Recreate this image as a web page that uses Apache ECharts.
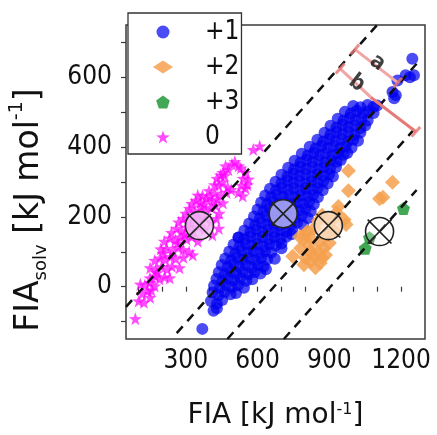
<!DOCTYPE html>
<html>
<head>
<meta charset="utf-8">
<script src="https://cdn.jsdelivr.net/npm/echarts@6/dist/echarts.min.js"></script>
<style>
  html, body { margin: 0; padding: 0; background: #fff; }
  #chart { width: 437px; height: 435px; }
</style>
</head>
<body>
<div id="chart"></div>
<script>
// axis ticks / labels
const xTickValues = [100, 200, 300, 400, 500, 600, 700, 800, 900, 1000, 1100, 1200];
const xLabelValues = [300, 600, 900, 1200];
const yTickValues = [-100, 0, 100, 200, 300, 400, 500, 600, 700];
const yLabelValues = [0, 200, 400, 600];

const seriesNames = ['+1', '+2', '+3', '0'];

// [FIA, FIA_solv]
const plus1Points = [
  [369,-121],
  [416,-69],[430,-62],
  [405,-41],[430,-49],[452,-38],
  [412,-17],[437,-24],[462,-15],[487,-22],[510,-18],
  [418,3],[443,-4],[468,5],[493,-2],[518,4],[543,-3],
  [428,22],[453,16],[478,24],[503,18],[528,25],[553,17],[578,21],
  [438,41],[463,35],[488,44],[513,37],[538,43],[563,36],[588,42],[612,38],
  [450,62],[475,56],[500,64],[525,57],[550,63],[575,55],[600,62],[625,58],
  [465,81],[490,76],[515,84],[540,77],[565,83],[590,75],[615,82],[640,78],
  [482,101],[507,95],[532,104],[557,97],[582,103],[607,96],[632,102],[657,98],
  [500,121],[525,116],[550,124],[575,117],[600,123],[625,115],[650,122],[675,118],[700,124],
  [520,141],[545,136],[570,144],[595,137],[620,143],[645,135],[670,142],[695,138],[720,143],
  [545,161],[570,156],[595,164],[620,157],[645,163],[670,155],[695,162],[720,158],[745,163],
  [565,181],[590,176],[615,184],[640,177],[665,183],[690,175],[715,182],[740,178],[765,183],[790,177],
  [585,201],[610,196],[635,204],[660,197],[685,203],[710,195],[735,202],[760,198],[785,203],[810,197],
  [600,221],[625,216],[650,224],[675,217],[700,223],[725,215],[750,222],[775,218],[800,223],[822,216],
  [615,241],[640,236],[665,244],[690,237],[715,243],[740,235],[765,242],[790,238],[815,243],[835,236],
  [632,261],[657,256],[682,264],[707,257],[732,263],[757,255],[782,262],[807,258],[832,263],[852,256],
  [652,281],[677,276],[702,284],[727,277],[752,283],[777,275],[802,282],[827,278],[852,283],[872,276],
  [675,301],[700,296],[725,304],[750,297],[775,303],[800,295],[825,302],[850,298],[875,303],[893,296],
  [700,321],[725,316],[750,324],[775,317],[800,323],[825,315],[850,322],[875,318],[900,323],[915,316],
  [728,341],[753,336],[778,344],[803,337],[828,343],[853,335],[878,342],[903,338],[928,343],
  [755,361],[780,356],[805,364],[830,357],[855,363],[880,355],[905,362],[930,358],[948,363],
  [785,381],[810,376],[835,384],[860,377],[885,383],[910,375],[935,382],[960,378],[975,383],
  [818,401],[843,396],[868,404],[893,397],[918,403],[943,395],[968,402],[993,398],
  [850,421],[875,416],[900,424],[925,417],[950,423],[975,415],[1000,422],[1020,418],
  [880,441],[905,436],[930,444],[955,437],[980,443],[1005,435],[1030,442],
  [905,461],[930,456],[955,464],[980,457],[1005,463],[1030,455],[1050,462],
  [935,481],[960,476],[985,484],[1010,477],[1035,483],[1060,476],
  [965,501],[990,496],[1015,504],[1040,497],[1065,503],[1085,498],
  [1000,518],[1030,514],[1060,521],[1085,516],[1100,519],
  [635,50],[672,80],[700,110],[742,150],[521,141],
  [1164,558],[1171,540],[1178,549],[1185,591],[1219,606],[1254,606],[1247,653],[1237,600]
];

const plus2Points = [
  [980,332],[980,275],[1164,299],[1110,252],[1124,256],[938,230],[970,178],[962,192],
  [870,205],[855,190],[836,167],[808,158],[794,139],[822,139],[776,143],[800,150],
  [877,110],[850,101],[884,91],[747,87],[801,82],[822,73],[794,63],[842,54],[870,82],
  [905,185],[920,160],[890,150],[930,212],[822,101],[815,120],[860,130],[780,110],
  [835,88],[862,68],[900,125]
];

const plus3Points = [
  [1210,224],[1068,140],[1050,110]
];

const zeroPoints = [
  [89,-92],
  [103,-41],[125,-45],[151,-31],
  [140,-12],[156,-10],[118,-20],
  [110,7],[129,5],[150,12],[170,2],
  [150,25],[172,30],[190,22],[212,28],[233,25],
  [151,54],[175,48],[198,57],[222,50],[242,58],[274,54],
  [170,75],[192,82],[215,78],[236,86],[258,80],[290,84],
  [195,108],[219,110],[245,104],[268,112],[290,106],[314,100],[329,91],
  [210,130],[233,139],[257,134],[280,142],[303,136],[326,144],[350,130],
  [240,155],[260,167],[283,160],[306,170],[330,162],[352,172],[378,165],[411,148],[438,167],
  [270,185],[288,195],[310,188],[335,199],[358,190],[380,198],[405,186],[428,195],
  [300,210],[315,224],[338,217],[362,228],[385,220],[408,226],[425,233],[440,210],
  [325,238],[342,247],[362,242],[386,252],[410,245],[432,250],[455,240],
  [350,262],[370,261],[397,275],[420,268],[446,262],[470,270],[520,270],[538,260],
  [420,292],[438,290],[455,300],[475,285],[534,290],[550,282],
  [430,310],[445,320],[462,318],[548,327],[562,308],[540,310],
  [455,327],[478,335],[530,340],
  [466,346],[493,351],[521,346],[505,358],
  [582,393],[609,403],
  [180,40],[205,95],[265,125],[295,150],[322,182],[352,205],[375,235],[400,258],[490,278],[558,292]
];

// group means (circle with cross), order: 0, +1, +2, +3
const meanPoints = [[357,175],[707,209],[896,175],[1110,158]];

// dashed guide lines, two end points each
const lineZero = [[50,-58],[1100,750]];
const linePlus1 = [[262,-133],[1265,639]];
const linePlus2 = [[474,-150],[1268,461]];
const linePlus3 = [[710,-150],[1265,277]];

// bracket annotations a and b
const bracketA = [[1007,680],[1186,585]];
const bracketB1 = [[945,625],[1073,543]];
const bracketB2 = [[1073,543],[1262,444]];
const bracketEnds = [[1007,680],[1186,585],[945,625],[1262,444]];
const bracketLabels = ['a', 'b'];
const bracketLabelPos = [[1102,642],[1015,583]];

const FONT = "'DejaVu Sans Condensed', 'DejaVu Sans', sans-serif";
const TITLE_FONT = "'DejaVu Sans', sans-serif";
const STAR = 'path://M10 0L12.35 6.76L19.51 6.91L13.8 11.24L15.88 18.09L10 14L4.12 18.09L6.2 11.24L0.49 6.91L7.65 6.76Z';
const PENTAGON = 'path://M10 0L19.51 6.91L15.88 18.09L4.12 18.09L0.49 6.91Z';
const MEAN = 'path://M22,12A10,10,0,1,1,2,12A10,10,0,1,1,22,12ZM3.5,3.5L20.5,20.5M20.5,3.5L3.5,20.5';
const meanFills = ['rgba(242,190,242,0.85)', 'rgba(176,176,242,0.85)', 'rgba(250,222,196,0.8)', 'rgba(255,255,255,0.25)'];

const chart = echarts.init(document.getElementById('chart'));

function dashed(name, data) {
  return {
    name: name,
    type: 'line',
    data: data,
    symbol: 'none',
    silent: true,
    z: 5,
    lineStyle: { color: '#111', width: 2.5, type: [9, 7] },
  };
}

chart.setOption({
  animation: false,
  backgroundColor: '#fff',
  textStyle: { fontFamily: FONT },
  grid: {
    left: 123, right: 12, top: 25, bottom: 93,
    show: true, borderColor: '#3a3a3a', borderWidth: 1.5,
  },
  legend: {
    data: seriesNames,
    orient: 'vertical',
    left: 128, top: 13,
    z: 10,
    selectedMode: false,
    backgroundColor: '#fff',
    borderColor: '#333', borderWidth: 1.3,
    padding: [4, 2, 2, 25],
    itemWidth: 20, itemHeight: 13, itemGap: 5,
    textStyle: { fontSize: 26, color: '#111', lineHeight: 30, padding: [0, 0, 0, 27], fontFamily: FONT },
  },
  xAxis: {
    type: 'value', min: 50, max: 1300,
    axisLine: { show: false },
    splitLine: { show: false },
    axisTick: { show: true, length: 5, customValues: xTickValues, lineStyle: { color: '#3a3a3a', width: 1.2 } },
    axisLabel: {
      customValues: xLabelValues, fontSize: 26, color: '#111', margin: 9, fontFamily: FONT,
      formatter: (v) => String(v),
    },
    name: 'FIA [kJ mol{sup|-1}]',
    nameLocation: 'middle',
    nameGap: 63,
    nameTextStyle: {
      fontSize: 28, color: '#111', fontFamily: TITLE_FONT,
      rich: { sup: { fontSize: 16, verticalAlign: 'top', color: '#111', fontFamily: TITLE_FONT } },
    },
  },
  yAxis: {
    type: 'value', min: -150, max: 750,
    axisLine: { show: false },
    splitLine: { show: false },
    axisTick: { show: true, length: 5, customValues: yTickValues, lineStyle: { color: '#3a3a3a', width: 1.2 } },
    axisLabel: {
      customValues: yLabelValues, fontSize: 26, color: '#111', margin: 14, fontFamily: FONT,
      formatter: (v) => String(v),
    },
    name: 'FIA{sub|solv} [kJ mol{sup|-1}]',
    nameLocation: 'middle',
    nameGap: 76,
    nameTextStyle: {
      fontSize: 33, color: '#111', fontFamily: TITLE_FONT, lineHeight: 42,
      padding: [0, 56, 0, 0],
      rich: {
        sub: { fontSize: 18, verticalAlign: 'bottom', color: '#111', fontFamily: TITLE_FONT },
        sup: { fontSize: 19, verticalAlign: 'top', color: '#111', fontFamily: TITLE_FONT },
      },
    },
  },
  series: [
    {
      name: '0', type: 'scatter', data: zeroPoints,
      symbol: STAR, symbolSize: 13, z: 2,
      itemStyle: { color: '#ff00ff', opacity: 0.7 },
    },
    {
      name: '+1', type: 'scatter', data: plus1Points,
      symbol: 'circle', symbolSize: 12, z: 2,
      itemStyle: { color: 'rgb(0,0,240)', opacity: 0.7 },
    },
    {
      name: '+2', type: 'scatter', data: plus2Points,
      symbol: 'diamond', symbolSize: 15, z: 3,
      itemStyle: { color: '#f5a04f', opacity: 0.85 },
    },
    {
      name: '+3', type: 'scatter', data: plus3Points,
      symbol: PENTAGON, symbolSize: 13, z: 3,
      itemStyle: { color: '#2f9e44', opacity: 0.9 },
    },
    dashed('line0', lineZero),
    dashed('line1', linePlus1),
    dashed('line2', linePlus2),
    dashed('line3', linePlus3),
    {
      name: 'means', type: 'scatter', z: 6, silent: true,
      symbol: MEAN, symbolSize: 28,
      data: meanPoints.map((p, i) => ({ value: p, itemStyle: { color: meanFills[i] } })),
      itemStyle: { borderColor: '#222', borderWidth: 1.6, opacity: 1 },
    },
    {
      name: 'bracketA', type: 'line', data: bracketA, symbol: 'none', silent: true, z: 7,
      lineStyle: { color: '#f2a5a5', width: 3 },
    },
    {
      name: 'bracketB1', type: 'line', data: bracketB1, symbol: 'none', silent: true, z: 7,
      lineStyle: { color: '#f2a5a5', width: 3 },
    },
    {
      name: 'bracketB2', type: 'line', data: bracketB2, symbol: 'none', silent: true, z: 7,
      lineStyle: { color: '#e57b78', width: 3 },
    },
    {
      name: 'bracketEnds', type: 'scatter', data: bracketEnds, silent: true, z: 8,
      symbol: 'rect', symbolSize: [3, 13], symbolRotate: -41.5,
      itemStyle: { color: '#e57373' },
    },
    {
      name: 'bracketText', type: 'scatter', silent: true, z: 8,
      symbolSize: 1,
      data: bracketLabelPos.map((p, i) => ({ name: bracketLabels[i], value: p })),
      itemStyle: { color: 'rgba(0,0,0,0)' },
      label: {
        show: true, position: 'inside', formatter: '{b}', rotate: -37,
        fontSize: 22, fontWeight: 'bold', color: '#111', fontFamily: FONT,
      },
    },
  ],
});
</script>
</body>
</html>
